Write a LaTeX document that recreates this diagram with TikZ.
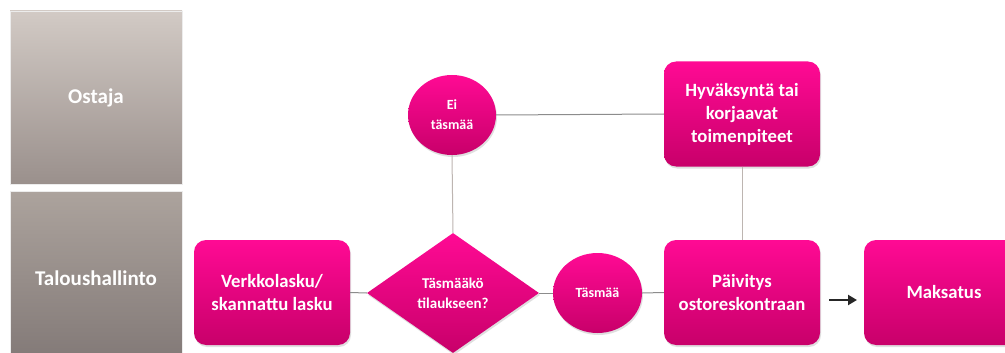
\documentclass[tikz,border=0pt]{standalone}
\usepackage{fontspec}
\setmainfont{Carlito}
\usetikzlibrary{shapes.geometric,arrows.meta,shadows}
\definecolor{pinktop}{HTML}{FF0A94}
\definecolor{pinkbot}{HTML}{C8006A}
\definecolor{lanetop}{HTML}{D2CAC5}
\definecolor{lanebot}{HTML}{9A908C}
\definecolor{lane2top}{HTML}{ACA39D}
\definecolor{lane2bot}{HTML}{817876}
\definecolor{conn}{HTML}{BDB5B1}
\definecolor{conndark}{HTML}{8C8C8C}
\tikzset{
  x=1pt, y=-1pt,
  pinkfill/.style={top color=pinktop, bottom color=pinkbot, draw=none,
     drop shadow={shadow xshift=1pt, shadow yshift=-2pt, opacity=0.25}},
  procbox/.style={pinkfill, rounded corners=12pt, minimum width=156pt, minimum height=105pt,
     align=center, text=white, font=\bfseries\fontsize{18.7}{23}\selectfont, inner sep=2pt},
  circ/.style={pinkfill, ellipse, minimum width=88pt, minimum height=80pt,
     align=center, text=white, font=\bfseries\fontsize{14}{20}\selectfont, inner sep=0pt},
  decide/.style={pinkfill, diamond, minimum width=172pt, minimum height=120pt, aspect=1.43,
     align=center, text=white, font=\bfseries\fontsize{15}{20}\selectfont, inner sep=0pt},
  lanebox/.style={minimum width=172pt, align=center, text=white,
     font=\bfseries\fontsize{21}{24}\selectfont, draw=white!85!gray, line width=0.8pt},
  conline/.style={draw=conn, line width=1pt},
  conlinedark/.style={draw=conndark, line width=1pt},
}
\begin{document}
\begin{tikzpicture}
\useasboundingbox (0,0) rectangle (1005,353);
\clip (0,0) rectangle (1005,353);
\fill[white] (0,0) rectangle (1005,353);
% lanes
\node[lanebox, minimum height=173pt, top color=lanetop, bottom color=lanebot] (ostaja) at (96,97.5) {Ostaja};
\node[lanebox, minimum height=175pt, top color=lane2top, bottom color=lane2bot] (talous) at (96,278.5) {Taloushallinto};
% nodes
\node[procbox] (verkko) at (272,292.5) {Verkkolasku/\\skannattu lasku};
\node[decide] (dia) at (453,293) {Täsmääkö\\tilaukseen?};
\node[circ, minimum width=89pt] (tasmaa) at (597.5,293) {Täsmää};
\node[procbox] (paiv) at (742,292.5) {Päivitys\\ostoreskontraan};
\node[procbox, minimum width=160pt] (maks) at (944,292.5) {Maksatus};
\node[procbox] (hyv) at (742,114) {Hyväksyntä tai\\korjaavat\\toimenpiteet};
\node[circ] (ei) at (452,115) {Ei\\täsmää};
% connectors
\draw[conlinedark] (ei.east) -- (hyv.west);
\draw[conline] (ei.south) -- (dia.north);
\draw[conline] (hyv.south) -- (paiv.north);
\draw[conlinedark] (verkko.east) -- (dia.west);
\draw[conlinedark] (dia.east) -- (tasmaa.west);
\draw[conlinedark] (tasmaa.east) -- (paiv.west);
\coordinate (a1) at (829,300);
\coordinate (a2) at (857,300);
\draw[line width=2.6pt, -{Triangle[length=9pt,width=10pt]}, black!85] (a1) -- (a2);
\end{tikzpicture}
\end{document}
